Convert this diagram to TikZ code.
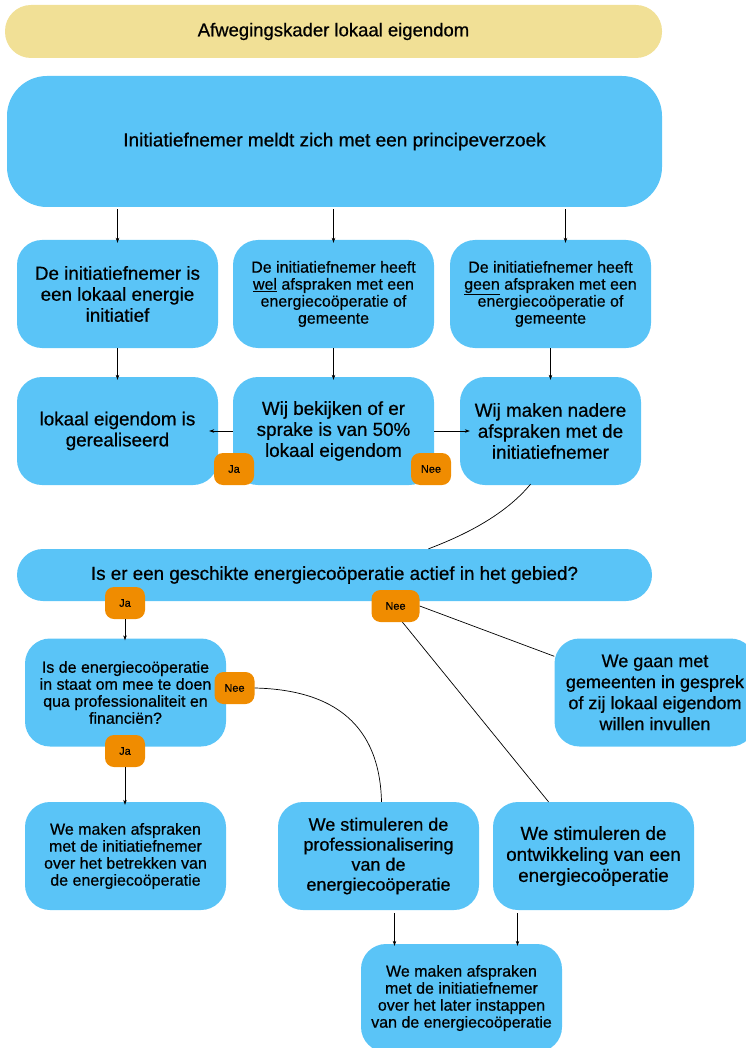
\documentclass[tikz,border=0pt]{standalone}
\usepackage{fontspec}
\setmainfont{Liberation Sans}[FakeBold=0.6]
\newfontfamily\medfont{Liberation Sans}[FakeBold=0.6]
\usetikzlibrary{arrows.meta}
\definecolor{boxblue}{HTML}{5AC4F7}
\definecolor{titleyellow}{HTML}{F1E096}
\definecolor{badgeorange}{HTML}{F08C00}
\begin{document}
\begin{tikzpicture}[x=1pt,y=-1pt,
 box/.style={fill=boxblue, draw=none, rounded corners=25pt, minimum width=201pt, minimum height=108pt, align=center, inner sep=0pt},
 big/.style={font=\medfont\fontsize{18.8}{21}\selectfont},
 small/.style={font=\medfont\fontsize{16}{17}\selectfont},
 badge/.style={fill=badgeorange, rounded corners=9pt, minimum width=40pt, minimum height=32pt, inner sep=0pt, font=\medfont\fontsize{11}{12}\selectfont},
 arr/.style={-{Stealth[length=5pt,width=3.5pt]}, line width=0.6pt},
 ln/.style={line width=0.7pt}]
\useasboundingbox (0,0) rectangle (745,1048);

\node[fill=titleyellow, rounded corners=26pt, minimum width=657pt, minimum height=53pt, inner sep=0pt, font=\medfont\fontsize{18.5}{20}\selectfont] (title) at (333.5,31.5) {Afwegingskader lokaal eigendom};

\node[fill=boxblue, rounded corners=40pt, minimum width=655pt, minimum height=131pt, inner sep=0pt, font=\medfont\fontsize{19}{21}\selectfont] (top) at (334.5,141.5) {Initiatiefnemer meldt zich met een principeverzoek};

% row 1
\node[box,big] (A) at (117.5,294) {De initiatiefnemer is\\een lokaal energie\\initiatief};
\node[box,small] (B) at (333.5,294) {De initiatiefnemer heeft\\\underline{wel} afspraken met een\\energiecoöperatie of\\gemeente};
\node[box,small] (C) at (550.5,294) {De initiatiefnemer heeft\\\underline{geen} afspraken met een\\energiecoöperatie of\\gemeente};

% row 2
\node[box,big] (D) at (117.5,431) {lokaal eigendom is\\gerealiseerd};
\node[box,big] (E) at (333.5,431) {Wij bekijken of er\\sprake is van 50\%\\lokaal eigendom};
\node[box,big,minimum width=181pt] (F) at (550.5,431) {Wij maken nadere\\afspraken met de\\initiatiefnemer};

% question
\node[fill=boxblue, rounded corners=26pt, minimum width=635pt, minimum height=52pt, inner sep=0pt, font=\medfont\fontsize{18.8}{20}\selectfont] (Q) at (334.5,575) {Is er een geschikte energiecoöperatie actief in het gebied?};

\node[box,small] (G) at (125.5,692.5) {Is de energiecoöperatie\\in staat om mee te doen\\qua professionaliteit en\\financiën?};
\node[box,big,font=\medfont\fontsize{18}{21}\selectfont] (K) at (655,692.5) {We gaan met\\gemeenten in gesprek\\of zij lokaal eigendom\\willen invullen};

\node[box,small] (H) at (125.5,856) {We maken afspraken\\met de initiatiefnemer\\over het betrekken van\\de energiecoöperatie};
\node[box,big,font=\medfont\fontsize{18}{20}\selectfont] (I) at (378.5,856) {We stimuleren de\\professionalisering\\van de\\energiecoöperatie};
\node[box,big] (J) at (593.5,856) {We stimuleren de\\ontwikkeling van een\\energiecoöperatie};

\node[box,small] (L) at (461.5,998) {We maken afspraken\\met de initiatiefnemer\\over het later instappen\\van de energiecoöperatie};

% arrows top -> row 1
\draw[arr] ([yshift=-2pt]top.south -| A.north) -- ([yshift=-3pt]A.north);
\draw[arr] ([yshift=-2pt]top.south -| B.north) -- ([yshift=-3pt]B.north);
\draw[arr] ([xshift=15pt,yshift=-2pt]top.south -| C.north) -- ([xshift=15pt,yshift=-3pt]C.north);
% row1 -> row2
\draw[arr] (A.south) -- ([yshift=-3pt]D.north);
\draw[arr] (B.south) -- ([yshift=-3pt]E.north);
\draw[arr] (C.south) -- ([yshift=-3pt]F.north);
% E -> D, E -> F
\draw[arr] (E.west) -- ([xshift=-9pt]D.east);
\draw[arr] (E.east) -- ([xshift=10pt]F.west);

\node[badge] (Eja) at (234,469) {Ja};
\node[badge] (Enee) at (431,469) {Nee};

% F -> Q
\draw[ln] ([xshift=-20pt,yshift=1pt]F.south) .. controls (505,515) and (465,535) .. ([xshift=94pt]Q.north);

% Q badges
\node[badge] (Qja) at (125,603) {Ja};
\node[badge,minimum width=48pt] (Qnee) at (395.5,606) {Nee};

\draw[arr] (Qja.south) -- ([yshift=-2pt]Qja.south |- G.north);
\draw[ln] (Qnee.east) -- ([yshift=-18pt]K.north west);
\draw[ln] ([xshift=7pt]Qnee.south) -- ([xshift=-45pt]J.north);

\node[badge] (Gnee) at (234.5,688) {Nee};
\node[badge] (Gja) at (125,751) {Ja};

\draw[arr] (Gja.south) -- ([yshift=-3pt]Gja.south |- H.north);
\draw[ln] (Gnee.east) .. controls (345,690) and (380,735) .. ([xshift=3pt]I.north);

% I, J -> L
\draw[arr] ([xshift=16pt,yshift=-3pt]I.south) -- ([xshift=16pt,yshift=-2pt]I.south |- L.north);
\draw[arr] ([xshift=-76pt,yshift=-3pt]J.south) -- ([xshift=-76pt,yshift=-2pt]J.south |- L.north);
\end{tikzpicture}
\end{document}
